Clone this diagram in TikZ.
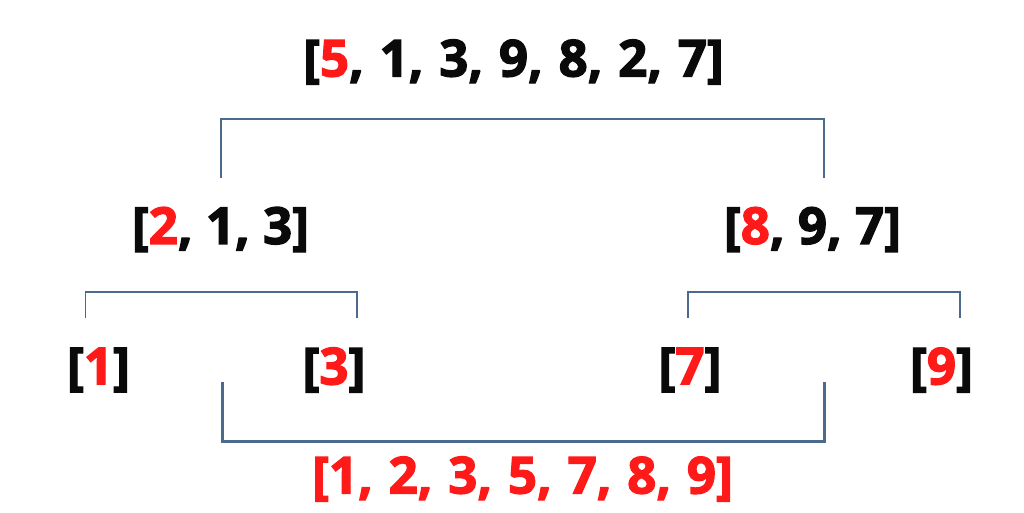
\documentclass[tikz,border=0pt]{standalone}
\usepackage{fontspec}
\setmainfont{Open Sans}[UprightFont=* Bold,UprightFeatures={FakeBold=2.5}]
\definecolor{redtxt}{HTML}{FF1A1A}
\definecolor{linecol}{HTML}{4A6A8E}
\definecolor{blacktxt}{HTML}{0A0A0A}
\newcommand{\widesp}{\spaceskip=\dimexpr\fontdimen2\font+2.5pt\relax}
\begin{document}
\begin{tikzpicture}[x=1pt,y=-1pt,
  lbl/.style={inner sep=0pt,anchor=center,text=blacktxt,font=\fontsize{51}{56}\selectfont},
  brk/.style={draw=linecol,line width=2.5pt,line join=miter},
  brkthin/.style={draw=linecol,line width=1.6pt,line join=miter}]
\useasboundingbox[fill=white] (0,0) rectangle (1024,512);
\node[lbl] (top) at (513.5,62) {\widesp[\textcolor{redtxt}{5}, 1, 3, 9, 8, 2, 7]};
\node[lbl] (l) at (220.5,229.5) {[\textcolor{redtxt}{2}, 1, 3]};
\node[lbl] (r) at (812.5,229.5) {[\textcolor{redtxt}{8}, 9, 7]};
\node[lbl] (ll) at (98.5,370) {[\textcolor{redtxt}{1}]};
\node[lbl] (lr) at (334,370) {[\textcolor{redtxt}{3}]};
\node[lbl] (rl) at (690,370) {[\textcolor{redtxt}{7}]};
\node[lbl] (rr) at (941.5,370) {[\textcolor{redtxt}{9}]};
\node[lbl,text=redtxt] (res) at (522.5,479) {\widesp[1, 2, 3, 5, 7, 8, 9]};
% top bracket
\coordinate (tA) at (221,178);
\coordinate (tB) at (824,178);
\draw[brk] (tA) -- (221,119) -- (824,119) -- (tB);
% left bracket
\coordinate (lA) at (85.5,318);
\coordinate (lB) at (357,318);
\draw[brkthin] (lA) -- (85.5,292) -- (357,292) -- (lB);
% right bracket
\coordinate (rA) at (688,318);
\coordinate (rB) at (960,318);
\draw[brkthin] (rA) -- (688,292) -- (960,292) -- (rB);
% bottom bracket
\coordinate (bA) at (222,382);
\coordinate (bB) at (824,382);
\draw[brk,line width=3pt] (bA) -- (222,441) -- (824,441) -- (bB);
\end{tikzpicture}
\end{document}
